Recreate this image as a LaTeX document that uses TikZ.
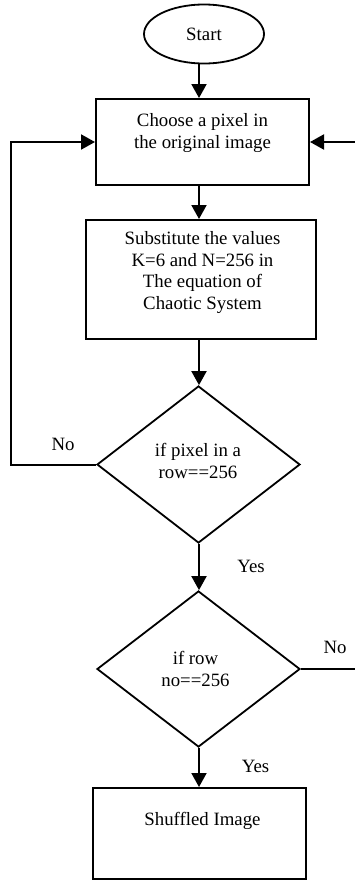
\documentclass[tikz,border=0pt]{standalone}
\usepackage{fontspec}
\setmainfont{Liberation Serif}
\usetikzlibrary{shapes.geometric,arrows.meta}
\begin{document}
\begin{tikzpicture}[x=1pt,y=-1pt,
  every node/.style={font=\fontsize{18.8}{21.5}\selectfont},
  line/.style={line width=2pt},
  flow/.style={line, -{Triangle[length=14pt,width=15pt]}},
  procbox/.style={draw, line width=2pt, rectangle, inner sep=0pt},
  decision/.style={draw, line width=1.8pt, diamond, inner sep=0pt},
  caption/.style={align=center, inner sep=0pt},
]
\useasboundingbox (0,0) rectangle (354,881);
\coordinate (spine) at (199,0);

% terminal
\node[draw, line width=1.8pt, ellipse, minimum width=120pt, minimum height=59pt] (start) at (204,34) {Start};

% process boxes
\node[procbox, minimum width=213pt, minimum height=86pt] (choose) at (202.5,142) {};
\node[caption] (chooseText) at (202.5,133) {Choose a pixel in\\the original image};

\node[procbox, minimum width=230pt, minimum height=119pt] (subst) at (201,279.5) {};
\node[caption] (substText) at (202.5,272.5) {Substitute the values\\K=6 and N=256 in\\The equation of\\Chaotic System};

% decisions
\node[decision, minimum width=203pt, minimum height=157pt] (rowpix) at (198.5,464.5) {};
\node[caption] (rowpixText) at (198,461) {if pixel in a\\row==256};

\node[decision, minimum width=203pt, minimum height=156pt] (rowno) at (198.5,669) {};
\node[caption] (rownoText) at (195.5,669) {if row\\no==256};

% result
\node[procbox, minimum width=213pt, minimum height=91pt] (shuffled) at (199.5,833.5) {};
\node[caption] (shuffledText) at (202.5,821) {Shuffled Image};

% main flow
\draw[flow] (start.south -| spine) -- (choose.north -| spine);
\draw[flow] (choose.south -| spine) -- (subst.north -| spine);
\draw[flow] (subst.south -| spine) -- (rowpix.north -| spine);
\draw[flow] (rowpix.south -| spine) -- (rowno.north -| spine);
\draw[flow] (rowno.south -| spine) -- (shuffled.north -| spine);

% loops back
\draw[flow] (rowpix.west) -- ++(-85,0) |- (choose.west);
\draw[flow] (rowno.east) -- ++(58,0) |- (choose.east);

% branch labels
\node (noLeft) at (63,444) {No};
\node (yesOne) at (251,566) {Yes};
\node (noRight) at (335,647) {No};
\node (yesTwo) at (255.5,766) {Yes};
\end{tikzpicture}
\end{document}
